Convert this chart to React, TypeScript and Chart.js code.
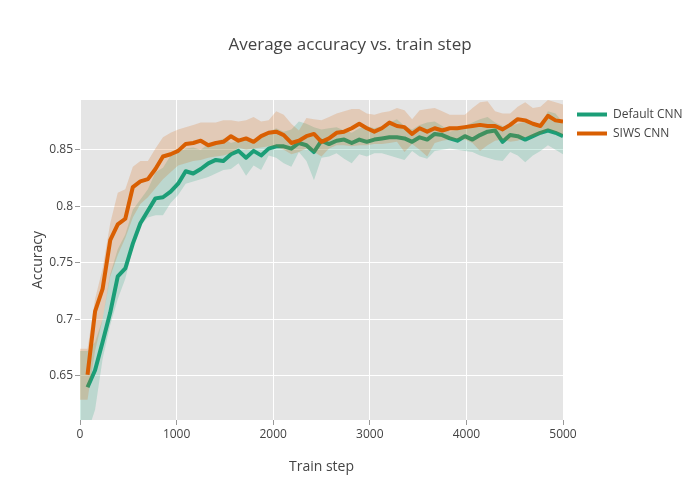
import { useEffect, useRef } from "react";
import { Chart, registerables } from "chart.js";

Chart.register(...registerables);

const FONT = "'Open Sans', sans-serif";
const TEXT = "#444";
const GREEN = "#1b9e77";
const ORANGE = "#d95f02";

const title = "Average accuracy vs. train step";
const xTitle = "Train step";
const yTitle = "Accuracy";
const seriesNames = ["Default CNN", "SIWS CNN"];

// train steps (first entry 0 is only used by the spread bands)
const steps = [
  0, 78, 156, 234, 313, 391, 469, 547, 625, 703, 781, 859, 938, 1016, 1094, 1172,
  1250, 1328, 1406, 1484, 1563, 1641, 1719, 1797, 1875, 1953, 2031, 2109, 2188,
  2266, 2344, 2422, 2500, 2578, 2656, 2734, 2813, 2891, 2969, 3047, 3125, 3203,
  3281, 3359, 3438, 3516, 3594, 3672, 3750, 3828, 3906, 3984, 4063, 4141, 4219,
  4297, 4375, 4453, 4531, 4609, 4688, 4766, 4844, 4922, 5000,
];

const defaultCnn = [
  0.640, 0.655, 0.680, 0.706, 0.738, 0.745, 0.767, 0.785, 0.796, 0.807,
  0.808, 0.813, 0.820, 0.831, 0.829, 0.833, 0.838, 0.841, 0.840, 0.846,
  0.849, 0.843, 0.849, 0.845, 0.851, 0.853, 0.853, 0.851, 0.856, 0.854,
  0.848, 0.858, 0.855, 0.858, 0.859, 0.856, 0.859, 0.857, 0.859, 0.860,
  0.861, 0.861, 0.860, 0.857, 0.861, 0.859, 0.864, 0.863, 0.860, 0.858,
  0.862, 0.859, 0.863, 0.866, 0.867, 0.857, 0.863, 0.862, 0.859, 0.862,
  0.865, 0.867, 0.865, 0.862,
];

const siwsCnn = [
  0.651, 0.707, 0.727, 0.770, 0.784, 0.789, 0.817, 0.822, 0.824, 0.833,
  0.844, 0.846, 0.849, 0.855, 0.856, 0.858, 0.854, 0.856, 0.857, 0.862,
  0.858, 0.860, 0.857, 0.862, 0.865, 0.866, 0.863, 0.856, 0.858, 0.862,
  0.864, 0.857, 0.860, 0.865, 0.866, 0.869, 0.873, 0.869, 0.866, 0.869,
  0.874, 0.871, 0.870, 0.864, 0.869, 0.866, 0.869, 0.867, 0.869, 0.869,
  0.870, 0.871, 0.872, 0.871, 0.871, 0.868, 0.872, 0.877, 0.876, 0.873,
  0.871, 0.880, 0.876, 0.875,
];

const defaultUpper = [
  0.672, 0.672, 0.680, 0.700, 0.740, 0.762, 0.775, 0.797, 0.806, 0.815,
  0.830, 0.834, 0.845, 0.848, 0.851, 0.852, 0.850, 0.855, 0.857, 0.860,
  0.856, 0.858, 0.859, 0.858, 0.860, 0.866, 0.869, 0.866, 0.868, 0.875,
  0.873, 0.870, 0.868, 0.869, 0.870, 0.867, 0.865, 0.869, 0.871, 0.869,
  0.871, 0.874, 0.877, 0.871, 0.868, 0.872, 0.874, 0.875, 0.871, 0.866,
  0.868, 0.871, 0.874, 0.877, 0.879, 0.874, 0.871, 0.871, 0.873, 0.875,
  0.872, 0.871, 0.884, 0.882, 0.874,
];

const defaultLower = [
  0.600, 0.600, 0.620, 0.665, 0.695, 0.718, 0.736, 0.763, 0.783, 0.790,
  0.792, 0.792, 0.803, 0.810, 0.820, 0.822, 0.824, 0.826, 0.829, 0.832,
  0.833, 0.838, 0.827, 0.836, 0.832, 0.845, 0.843, 0.838, 0.835, 0.848,
  0.840, 0.823, 0.843, 0.844, 0.847, 0.842, 0.838, 0.846, 0.844, 0.847,
  0.847, 0.845, 0.843, 0.841, 0.849, 0.844, 0.842, 0.849, 0.850, 0.851,
  0.850, 0.849, 0.848, 0.845, 0.843, 0.841, 0.840, 0.848, 0.845, 0.839,
  0.845, 0.849, 0.854, 0.850, 0.846,
];

const siwsUpper = [
  0.674, 0.674, 0.718, 0.745, 0.785, 0.812, 0.815, 0.835, 0.840, 0.840,
  0.851, 0.861, 0.865, 0.868, 0.870, 0.872, 0.874, 0.874, 0.874, 0.876,
  0.876, 0.875, 0.876, 0.879, 0.875, 0.876, 0.884, 0.881, 0.873, 0.867,
  0.878, 0.877, 0.876, 0.879, 0.882, 0.884, 0.886, 0.886, 0.882, 0.881,
  0.883, 0.884, 0.887, 0.885, 0.877, 0.885, 0.886, 0.887, 0.884, 0.881,
  0.881, 0.881, 0.887, 0.892, 0.893, 0.884, 0.882, 0.882, 0.888, 0.892,
  0.887, 0.888, 0.894, 0.892, 0.890,
];

const siwsLower = [
  0.629, 0.629, 0.672, 0.700, 0.738, 0.757, 0.772, 0.790, 0.802, 0.808,
  0.816, 0.824, 0.830, 0.836, 0.838, 0.840, 0.841, 0.843, 0.844, 0.845,
  0.847, 0.852, 0.850, 0.851, 0.852, 0.853, 0.853, 0.850, 0.846, 0.848,
  0.851, 0.848, 0.844, 0.851, 0.854, 0.854, 0.853, 0.854, 0.854, 0.855,
  0.855, 0.856, 0.857, 0.848, 0.855, 0.850, 0.844, 0.856, 0.858, 0.859,
  0.859, 0.859, 0.856, 0.849, 0.854, 0.858, 0.859, 0.857, 0.858, 0.861,
  0.862, 0.864, 0.868, 0.866, 0.863,
];

const pts = (xs: number[], ys: number[]) => ys.map((y, i) => ({ x: xs[i], y }));

export default function App() {
  const ref = useRef<HTMLCanvasElement>(null);

  useEffect(() => {
    if (!ref.current) return;
    const lineSteps = steps.slice(1);

    const bgPlugin = {
      id: "plotBg",
      beforeDraw(chart: any) {
        const { ctx, chartArea: a } = chart;
        ctx.save();
        ctx.fillStyle = "#e5e5e5";
        ctx.fillRect(a.left, a.top, a.right - a.left, a.bottom - a.top);
        ctx.restore();
      },
    };

    const textPlugin = {
      id: "texts",
      afterDraw(chart: any) {
        const { ctx, chartArea: a } = chart;
        ctx.save();
        ctx.fillStyle = TEXT;
        ctx.textAlign = "center";
        ctx.textBaseline = "middle";
        ctx.font = `17px ${FONT}`;
        ctx.fillText(title, 350, 45);
        ctx.font = `14px ${FONT}`;
        ctx.fillText(xTitle, (a.left + a.right) / 2, 467);
        ctx.save();
        ctx.translate(38, (a.top + a.bottom) / 2);
        ctx.rotate(-Math.PI / 2);
        ctx.fillText(yTitle, 0, 0);
        ctx.restore();
        // legend
        const colors = [GREEN, ORANGE];
        ctx.font = `12px ${FONT}`;
        ctx.textAlign = "left";
        seriesNames.forEach((name, i) => {
          const y = 114.5 + i * 19;
          ctx.strokeStyle = colors[i];
          ctx.lineWidth = 4;
          ctx.beginPath();
          ctx.moveTo(577, y);
          ctx.lineTo(607, y);
          ctx.stroke();
          ctx.fillStyle = TEXT;
          ctx.fillText(name, 613, y);
        });
        ctx.restore();
      },
    };

    const band = (data: number[], color: string, fill: any, order: number) => ({
      data: pts(steps, data),
      borderColor: "rgba(0,0,0,0)",
      borderWidth: 0,
      backgroundColor: color,
      fill,
      pointRadius: 0,
      tension: 0,
      order,
    });

    const chart = new Chart(ref.current, {
      type: "line",
      data: {
        datasets: [
          band(defaultUpper, "rgba(27,158,119,0.2)", "+1", 6),
          band(defaultLower, "rgba(27,158,119,0.2)", false, 5),
          {
            label: seriesNames[0],
            data: pts(lineSteps, defaultCnn),
            borderColor: GREEN,
            borderWidth: 4,
            pointRadius: 0,
            fill: false,
            tension: 0,
            borderJoinStyle: "round",
            order: 4,
          } as any,
          band(siwsUpper, "rgba(217,95,2,0.2)", "+1", 3),
          band(siwsLower, "rgba(217,95,2,0.2)", false, 2),
          {
            label: seriesNames[1],
            data: pts(lineSteps, siwsCnn),
            borderColor: ORANGE,
            borderWidth: 4,
            pointRadius: 0,
            fill: false,
            tension: 0,
            borderJoinStyle: "round",
            order: 1,
          } as any,
        ],
      },
      options: {
        responsive: false,
        animation: false,
        events: [],
        layout: { padding: { top: 100, right: 137, left: 0, bottom: 0 } },
        plugins: {
          legend: { display: false },
          title: { display: false },
          tooltip: { enabled: false },
        },
        scales: {
          x: {
            type: "linear",
            min: 0,
            max: 5000,
            ticks: {
              stepSize: 1000,
              color: TEXT,
              font: { size: 12, family: FONT },
              padding: 2,
              maxRotation: 0,
              callback: (v: any) => String(v),
            },
            grid: { color: "#ffffff", lineWidth: 1, tickLength: 5, tickColor: "#999" } as any,
            border: { display: false },
            afterFit: (s: any) => {
              s.height = 80;
            },
          },
          y: {
            type: "linear",
            min: 0.611,
            max: 0.894,
            ticks: {
              stepSize: 0.05,
              includeBounds: false,
              color: TEXT,
              font: { size: 12, family: FONT },
              padding: 2,
              callback: (v: any) => String(Math.round(Number(v) * 100) / 100),
            },
            grid: { color: "#ffffff", lineWidth: 1, tickLength: 5, tickColor: "#999" } as any,
            border: { display: false },
            afterFit: (s: any) => {
              s.width = 80;
            },
          },
        },
      },
      plugins: [bgPlugin, textPlugin],
    });

    return () => chart.destroy();
  }, []);

  return (
    <div style={{ position: "fixed", left: 0, top: 0, width: 700, height: 500, background: "#fff" }}>
      <canvas ref={ref} width={700} height={500} style={{ width: 700, height: 500, display: "block" }} />
    </div>
  );
}
